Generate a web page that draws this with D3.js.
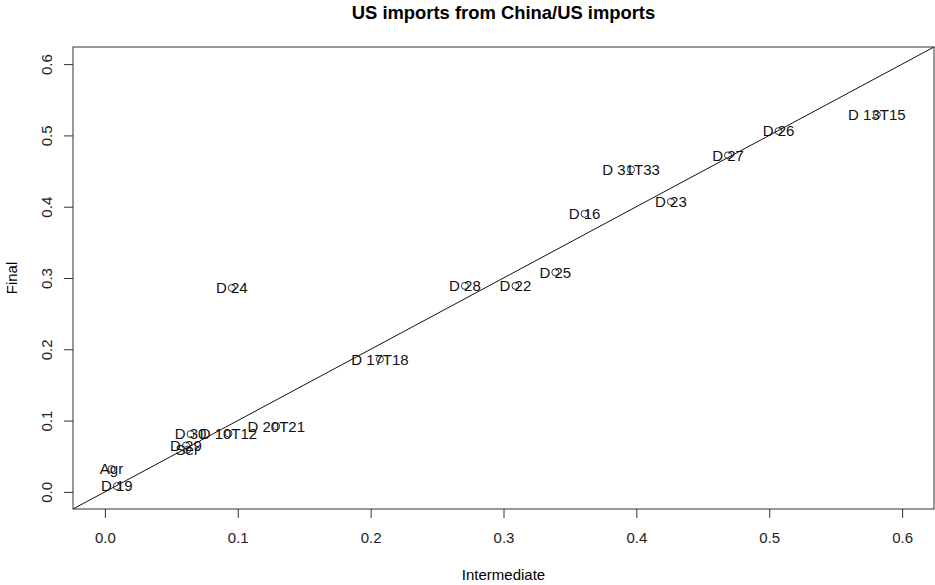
<!DOCTYPE html>
<html>
<head>
<meta charset="utf-8">
<script src="https://cdn.jsdelivr.net/npm/d3@7"></script>
<style>
  body { margin: 0; background: #fff; }
  svg { font-family: "Liberation Sans", Arial, Helvetica, sans-serif; }
</style>
</head>
<body>
<div id="chart"></div>
<script>
// sector labels and their China shares of US imports
const labels = ["D 13T15", "D 26", "D 27", "D 31T33", "D 23", "D 16", "D 25", "D 22", "D 28", "D 24",
                "D 17T18", "D 20T21", "D 10T12", "D 30", "D 29", "Ser", "Agr", "D 19"];
const intermediate = [0.581, 0.507, 0.469, 0.396, 0.426, 0.361, 0.339, 0.309, 0.271, 0.0955,
                      0.207, 0.129, 0.093, 0.0645, 0.061, 0.062, 0.005, 0.009];
const finalShare = [0.529, 0.506, 0.472, 0.452, 0.407, 0.390, 0.308, 0.289, 0.289, 0.286,
                    0.186, 0.092, 0.082, 0.081, 0.065, 0.059, 0.032, 0.008];
const ticks = [0, 0.1, 0.2, 0.3, 0.4, 0.5, 0.6];

const width = 935, height = 585;
const margin = {top: 47, right: 1, bottom: 76, left: 73};
const innerW = width - margin.left - margin.right;
const innerH = height - margin.top - margin.bottom;

const svg = d3.select("#chart").append("svg")
    .attr("width", width)
    .attr("height", height);

const g = svg.append("g")
    .attr("transform", "translate(" + margin.left + "," + margin.top + ")");

const xScale = d3.scaleLinear().domain([-0.024, 0.624]).range([0, innerW]);
const yScale = d3.scaleLinear().domain([-0.024, 0.624]).range([innerH, 0]);

// axes, R style
const xAxis = g.append("g")
    .attr("transform", "translate(0," + innerH + ")")
    .call(d3.axisBottom(xScale).tickValues(ticks).tickFormat(d3.format(".1f")).tickSize(9));
const yAxis = g.append("g")
    .call(d3.axisLeft(yScale).tickValues(ticks).tickFormat(d3.format(".1f")).tickSize(9));
xAxis.select(".domain").remove();
yAxis.select(".domain").remove();
xAxis.selectAll("line").attr("stroke", "#333");
yAxis.selectAll("line").attr("stroke", "#333");
xAxis.selectAll("text")
    .style("font-size", "15px").attr("fill", "#222").attr("font-family", null)
    .attr("y", 29).attr("dy", "0.35em");
yAxis.selectAll("text")
    .style("font-size", "15px").attr("fill", "#222").attr("font-family", null)
    .attr("text-anchor", "middle")
    .attr("dy", "0.35em")
    .attr("x", null)
    .attr("transform", "translate(-26,0) rotate(-90)");

// plot box
g.append("rect")
    .attr("width", innerW).attr("height", innerH)
    .attr("fill", "none").attr("stroke", "#333").attr("stroke-width", 1);

// 45 degree line
g.append("clipPath").attr("id", "clipBox")
    .append("rect").attr("width", innerW).attr("height", innerH);
g.append("line")
    .attr("clip-path", "url(#clipBox)")
    .attr("x1", xScale(-0.024)).attr("y1", yScale(-0.024))
    .attr("x2", xScale(0.624)).attr("y2", yScale(0.624))
    .attr("stroke", "#111").attr("stroke-width", 1);

const data = labels.map((d, i) => ({label: d, x: intermediate[i], y: finalShare[i]}));

g.append("g").selectAll("circle")
    .data(data)
    .join("circle")
    .attr("cx", d => xScale(d.x))
    .attr("cy", d => yScale(d.y))
    .attr("r", 3.5)
    .attr("fill", "none")
    .attr("stroke", "#222")
    .attr("stroke-width", 0.9);

// labels sit right on the points, like R's text()
g.append("g").selectAll("text")
    .data(data)
    .join("text")
    .attr("x", d => xScale(d.x))
    .attr("y", d => yScale(d.y))
    .attr("dy", "0.35em")
    .attr("text-anchor", "middle")
    .style("font-size", "15px")
    .attr("fill", "#111")
    .text(d => d.label);

// titles
svg.append("text")
    .attr("x", margin.left + innerW / 2).attr("y", 18.5)
    .attr("text-anchor", "middle")
    .style("font-size", "18.4px").style("font-weight", "bold")
    .text("US imports from China/US imports");
svg.append("text")
    .attr("x", margin.left + innerW / 2).attr("y", 580)
    .attr("text-anchor", "middle")
    .style("font-size", "15px")
    .text("Intermediate");
svg.append("text")
    .attr("transform", "translate(17," + (margin.top + innerH / 2) + ") rotate(-90)")
    .attr("text-anchor", "middle")
    .style("font-size", "15px")
    .text("Final");
</script>
</body>
</html>
